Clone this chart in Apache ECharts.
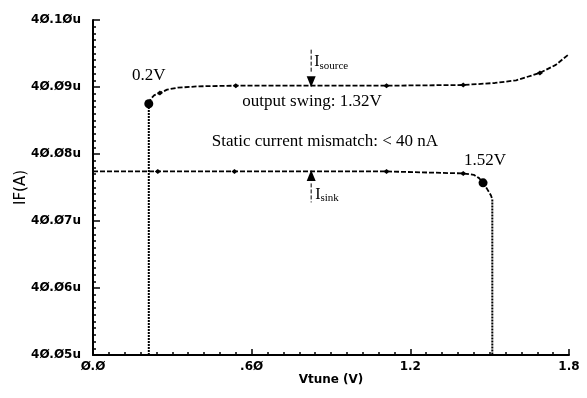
<!DOCTYPE html>
<html>
<head>
<meta charset="utf-8">
<script src="https://cdn.jsdelivr.net/npm/echarts@6/dist/echarts.min.js"></script>
<style>
  html, body { margin: 0; padding: 0; background: #fff; }
  #chart { width: 587px; height: 398px; }
</style>
</head>
<body>
<div id="chart"></div>
<script>
// axis ranges and labels
const xMin = 0, xMax = 1.8, xStep = 0.6;
const yMin = 40.05, yMax = 40.10, yStep = 0.01;
const xTickLabels = ['Ø.Ø', '.6Ø', '1.2', '1.8'];

// I source curve (first two points = vertical drop at 0.2V)
const sourceV = [0.211, 0.211, 0.218, 0.232, 0.253, 0.28, 0.32, 0.40, 0.54, 0.83, 1.11, 1.40, 1.52, 1.60, 1.69, 1.75, 1.80];
const sourceI = [40.05, 40.0875, 40.0882, 40.0888, 40.0891, 40.0896, 40.0899, 40.0901, 40.0902, 40.0902, 40.0902, 40.0903, 40.0906, 40.0910, 40.0921, 40.0933, 40.0949];
// I sink curve (last two points = vertical drop at 1.52V)
const sinkV = [0.0, 0.245, 0.535, 0.82, 1.11, 1.40, 1.44, 1.46, 1.475, 1.49, 1.505, 1.51, 1.51];
const sinkI = [40.0774, 40.0774, 40.0774, 40.0774, 40.0774, 40.0771, 40.0769, 40.0764, 40.0757, 40.0748, 40.0738, 40.0732, 40.05];

// small markers along each curve
const sourceMarkV = [0.253, 0.54, 1.11, 1.40, 1.69];
const sourceMarkI = [40.0891, 40.0902, 40.0902, 40.0903, 40.0921];
const sinkMarkV = [0.245, 0.535, 1.11, 1.40];
const sinkMarkI = [40.0774, 40.0774, 40.0774, 40.0771];

// special points
const sourceArrow = [0.825, 40.0902];
const sinkArrow = [0.825, 40.0774];
const sourceDot = [0.211, 40.0875];
const sinkDot = [1.475, 40.0757];

const zip = (a, b) => a.map((v, i) => [v, b[i]]);
const srcPts = zip(sourceV, sourceI);
const snkPts = zip(sinkV, sinkI);

const chart = echarts.init(document.getElementById('chart'));
const tickFont = { fontFamily: 'DejaVu Sans', fontWeight: 'bold', fontSize: 12, color: '#000' };
const serif = 'Liberation Serif';

const dashed = { color: '#000', width: 1.8, type: [5, 2] };
const dotted = { color: '#000', width: 2, type: [2, 1] };
const black = { color: '#000', opacity: 1 };

const option = {
  animation: false,
  grid: { left: 93, right: 18, top: 20, bottom: 43, outerBoundsMode: 'none' },
  xAxis: {
    type: 'value', min: xMin, max: xMax, interval: xStep,
    name: 'Vtune (V)', nameLocation: 'middle', nameGap: 19, nameMoveOverlap: false,
    nameTextStyle: Object.assign({}, tickFont, { fontSize: 12 }),
    axisLine: { lineStyle: { color: '#000', width: 2 } },
    axisTick: { inside: true, length: 6, lineStyle: { color: '#000', width: 1.5 } },
    minorTick: { show: true, splitNumber: 10, length: 3, lineStyle: { color: '#000', width: 1.5 } },
    splitLine: { show: false },
    axisLabel: Object.assign({}, tickFont, {
      margin: 6,
      formatter: v => xTickLabels[Math.round(v / xStep)]
    })
  },
  yAxis: {
    type: 'value', min: yMin, max: yMax, interval: yStep,
    name: 'IF(A)', nameLocation: 'middle', nameGap: 64, nameMoveOverlap: false,
    nameTextStyle: Object.assign({}, tickFont, { fontSize: 15, fontWeight: 'normal' }),
    axisLine: { show: true, lineStyle: { color: '#000', width: 2 } },
    axisTick: { show: true, inside: true, length: 7, lineStyle: { color: '#000', width: 1.5 } },
    minorTick: { show: true, splitNumber: 10, length: 3, lineStyle: { color: '#000', width: 1.5 } },
    splitLine: { show: false },
    axisLabel: Object.assign({}, tickFont, {
      margin: 12,
      formatter: v => v.toFixed(2).replace(/0/g, 'Ø') + 'u'
    })
  },
  series: [
    { type: 'line', data: srcPts.slice(0, 2), symbol: 'none', lineStyle: dotted },
    { type: 'line', data: srcPts.slice(1), symbol: 'none', lineStyle: dashed },
    { type: 'line', data: snkPts.slice(0, -1), symbol: 'none', lineStyle: dashed },
    { type: 'line', data: snkPts.slice(-2), symbol: 'none', lineStyle: dotted },
    { type: 'scatter', data: zip(sourceMarkV, sourceMarkI).concat(zip(sinkMarkV, sinkMarkI)),
      symbol: 'diamond', symbolSize: [6, 5], itemStyle: black },
    { type: 'scatter', data: [sourceDot, sinkDot], symbol: 'circle', symbolSize: 9, itemStyle: black },
    { type: 'scatter', data: [sourceArrow], symbol: 'triangle', symbolRotate: 180,
      symbolSize: [9, 11], symbolOffset: [0, -4], itemStyle: black },
    { type: 'scatter', data: [sinkArrow], symbol: 'triangle',
      symbolSize: [9, 11], symbolOffset: [0, 4], itemStyle: black }
  ]
};
chart.setOption(option);

// annotations placed relative to data coordinates
const px = p => chart.convertToPixel({ gridIndex: 0 }, p);
const a1 = px(sourceArrow), a2 = px(sinkArrow);
const d1 = px(sourceDot), d2 = px(sinkDot);
const txt = (x, y, text, size, align) => ({
  type: 'text', x: x, y: y,
  style: { text: text, fontFamily: serif, fontSize: size || 17, fill: '#000', align: align || 'center', verticalAlign: 'middle' }
});
const sub = (x, y, main, s) => ({
  type: 'text', x: x, y: y,
  style: {
    text: '{m|' + main + '}{s|' + s + '}', align: 'left', verticalAlign: 'middle',
    rich: {
      m: { fontFamily: serif, fontSize: 16, fill: '#000', lineHeight: 18 },
      s: { fontFamily: serif, fontSize: 11, fill: '#000', lineHeight: 18, padding: [8, 0, 0, 0] }
    }
  }
});
const stem = (x, y1, y2) => ({
  type: 'line', shape: { x1: x, y1: y1, x2: x, y2: y2 },
  style: { stroke: '#000', lineWidth: 1, lineDash: [4, 2] }
});

chart.setOption({
  graphic: [
    txt(d1[0], d1[1] - 28, '0.2V'),
    txt(d2[0] + 2, d2[1] - 22, '1.52V'),
    txt(312, 102, 'output swing: 1.32V'),
    txt(325, 142, 'Static current mismatch: < 40 nA'),
    stem(a1[0], a1[1] - 36, a1[1] - 12),
    sub(a1[0] + 3, a1[1] - 24, 'I', 'source'),
    stem(a2[0], a2[1] + 12, a2[1] + 31),
    sub(a2[0] + 4, a2[1] + 23, 'I', 'sink')
  ]
});
</script>
</body>
</html>
